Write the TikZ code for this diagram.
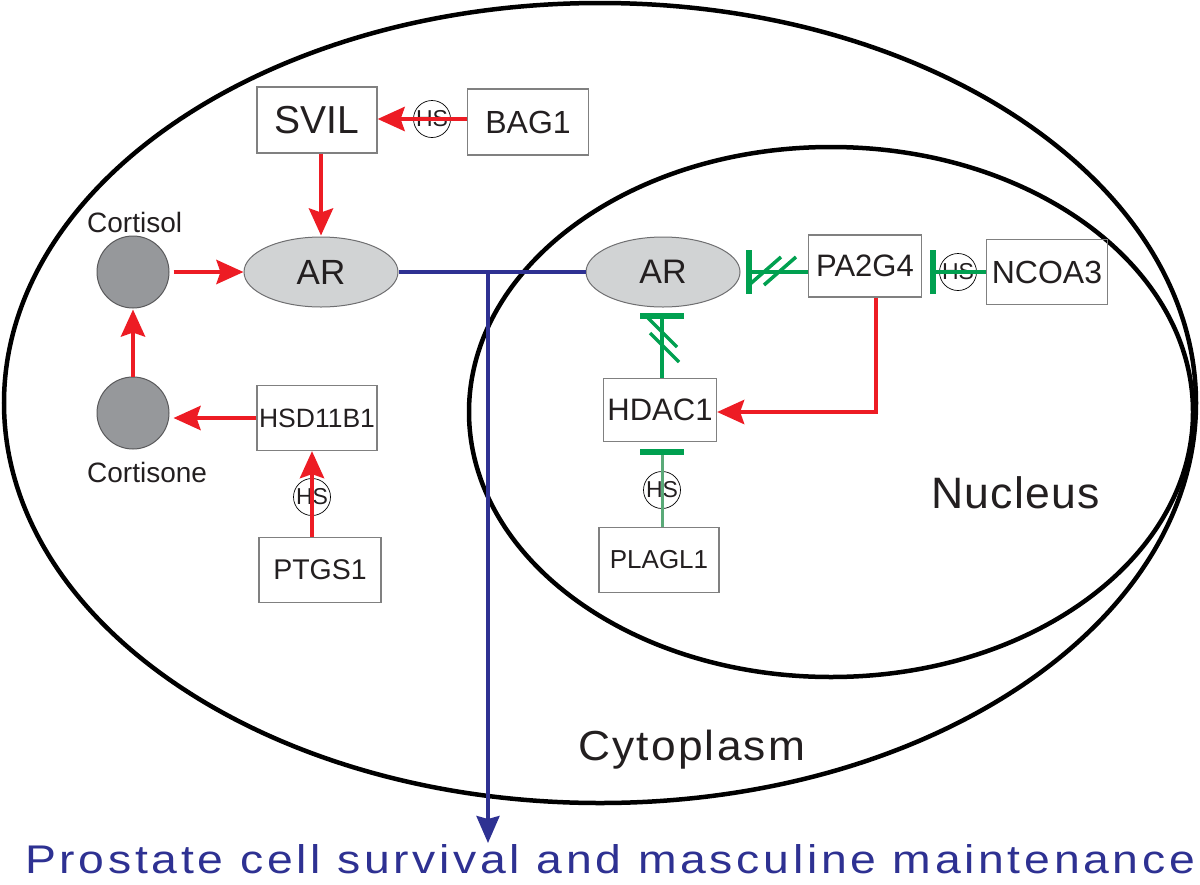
\documentclass[tikz,border=0pt]{standalone}
\usepackage{fontspec}
\setmainfont{Liberation Sans}
\usetikzlibrary{arrows.meta,shapes.geometric}
\definecolor{myred}{RGB}{237,28,36}
\definecolor{mygreen}{RGB}{0,160,80}
\definecolor{lightgreen}{RGB}{90,170,120}
\definecolor{myblue}{RGB}{46,49,146}
\definecolor{boxgray}{RGB}{128,128,128}
\definecolor{arfill}{RGB}{209,211,212}
\definecolor{argray}{RGB}{110,110,112}
\definecolor{molfill}{RGB}{150,152,155}
\definecolor{molborder}{RGB}{90,90,92}
\definecolor{txt}{RGB}{35,31,32}
\newcommand{\myfs}[1]{\fontsize{#1}{#1}\selectfont}
\newcommand{\spacedtext}[3]{{\myfs{#1}\addfontfeature{LetterSpace=#2}#3}}
\begin{document}
\begin{tikzpicture}[x=1pt,y=-1pt,
  gene/.style={draw=boxgray, line width=1.2pt, rectangle, inner sep=0pt, text=txt},
  hsc/.style={circle, draw=black, line width=0.7pt, minimum size=37pt, inner sep=0pt, font=\myfs{23}, text=txt},
  arel/.style={ellipse, draw=argray, fill=arfill, line width=1pt, minimum width=154pt, minimum height=70pt, inner sep=0pt, font=\myfs{35}, text=txt},
  mol/.style={circle, draw=molborder, fill=molfill, line width=1pt, minimum size=72pt, inner sep=0pt},
  membrane/.style={draw=black, line width=4.5pt},
  actarrow/.style={draw=myred, line width=4.5pt, -{Stealth[length=27pt,width=24pt,inset=4pt]}},
  inharrow/.style={draw=mygreen, line width=4pt, -{Bar[width=44pt,line width=6pt,color=mygreen]}},
  slashmark/.style={draw=mygreen, line width=3.5pt},
  blueline/.style={draw=myblue, line width=3.5pt},
  lbl/.style={inner sep=0pt, text=txt},
]
\useasboundingbox (0,0) rectangle (1200,884);
\fill[white] (0,0) rectangle (1200,884);

% membranes
\draw[membrane] (600,403) ellipse [x radius=596pt, y radius=400pt];
\draw[membrane] (831,412) ellipse [x radius=362pt, y radius=265pt];

% cytoplasm nodes
\node[gene, minimum width=120pt, minimum height=66pt, font=\myfs{39}] (svil) at (317,120) {SVIL};
\node[gene, minimum width=121pt, minimum height=66pt, font=\myfs{32}] (bag1) at (528,122) {BAG1};
\node[hsc] (hs1) at (432,119) {HS};
\node[arel] (ar1) at (321,272) {AR};
\node[mol] (cortisol) at (133,272) {};
\node[mol] (cortisone) at (133,413) {};
\node[lbl, anchor=base west, font=\myfs{28}] (cortisollbl) at (87,232) {Cortisol};
\node[lbl, anchor=base west, font=\myfs{28}] (cortisonelbl) at (87,482) {Cortisone};
\node[gene, minimum width=120pt, minimum height=65pt, font=\myfs{26.5}] (hsd) at (317,418) {HSD11B1};
\node[hsc] (hs3) at (312,497) {HS};
\node[gene, minimum width=122pt, minimum height=65pt, font=\myfs{28.5}] (ptgs1) at (320,570) {PTGS1};

% nucleus nodes
\node[arel, font=\myfs{34}] (ar2) at (663,272) {AR};
\node[gene, minimum width=113pt, minimum height=62pt, font=\myfs{31}] (pa2g4) at (865,266) {PA2G4};
\node[gene, minimum width=121pt, minimum height=65pt, font=\myfs{32}] (ncoa3) at (1047,272) {NCOA3};
\node[hsc] (hs2) at (958,272) {HS};
\node[gene, minimum width=113pt, minimum height=63pt, font=\myfs{31}] (hdac1) at (660,410) {HDAC1};
\node[hsc] (hs4) at (662,490) {HS};
\node[gene, minimum width=120pt, minimum height=65pt, font=\myfs{26}] (plagl1) at (659,560) {PLAGL1};

% region labels
\node[lbl, anchor=base west] (nucleus) at (931,508) {\resizebox{169pt}{\height}{\spacedtext{44}{3}{Nucleus}}};
\node[lbl, anchor=base west] (cytoplasm) at (578,760) {\resizebox{227pt}{\height}{\spacedtext{42}{5}{Cytoplasm}}};
\node[lbl, anchor=base west, text=myblue] (outcome) at (25,873) {\resizebox{1170pt}{\height}{\spacedtext{40}{8}{Prostate cell survival and masculine maintenance}}};

% activation (red)
\draw[actarrow] (bag1.west |- hs1) -- (svil.east |- hs1);
\draw[actarrow] (svil.south -| ar1) -- ([yshift=1pt]ar1.north);
\draw[actarrow] ([xshift=4pt]cortisol.east) -- (ar1.west);
\draw[actarrow] (cortisone.north) -- ([yshift=-1pt]cortisol.south);
\draw[actarrow] (hsd.west) -- ([xshift=4pt]cortisone.east |- hsd.west);
\draw[actarrow] (ptgs1.north -| hs3) -- (hsd.south -| hs3);
\draw[actarrow] ([xshift=11pt]pa2g4.south) |- ([yshift=-2pt]hdac1.east);

% inhibition (green)
\draw[inharrow, shorten >=5pt] (pa2g4.west |- ar2) -- (ar2.east);
\draw[inharrow, shorten >=8pt] (ncoa3.west) -- (pa2g4.east |- ncoa3.west);
\draw[inharrow, shorten >=5pt] (hdac1.north -| hs4) -- (ar2.south -| hs4);
\draw[inharrow, draw=lightgreen, line width=3pt, shorten >=7pt] (plagl1.north -| hs4) -- (hdac1.south -| hs4);
\draw[slashmark] (749,285) -- (781,257);
\draw[slashmark] (764,285) -- (796,257);
\draw[slashmark] (648,318) -- (677,347);
\draw[slashmark] (650,333) -- (679,362);

% AR output (blue)
\coordinate (branch) at (488,272);
\coordinate (arrowend) at (488,843);
\draw[blueline] (ar1.east) -- (ar2.west);
\draw[blueline, -{Stealth[length=27pt,width=23pt,inset=3pt]}] (branch) -- (arrowend);
\end{tikzpicture}
\end{document}
